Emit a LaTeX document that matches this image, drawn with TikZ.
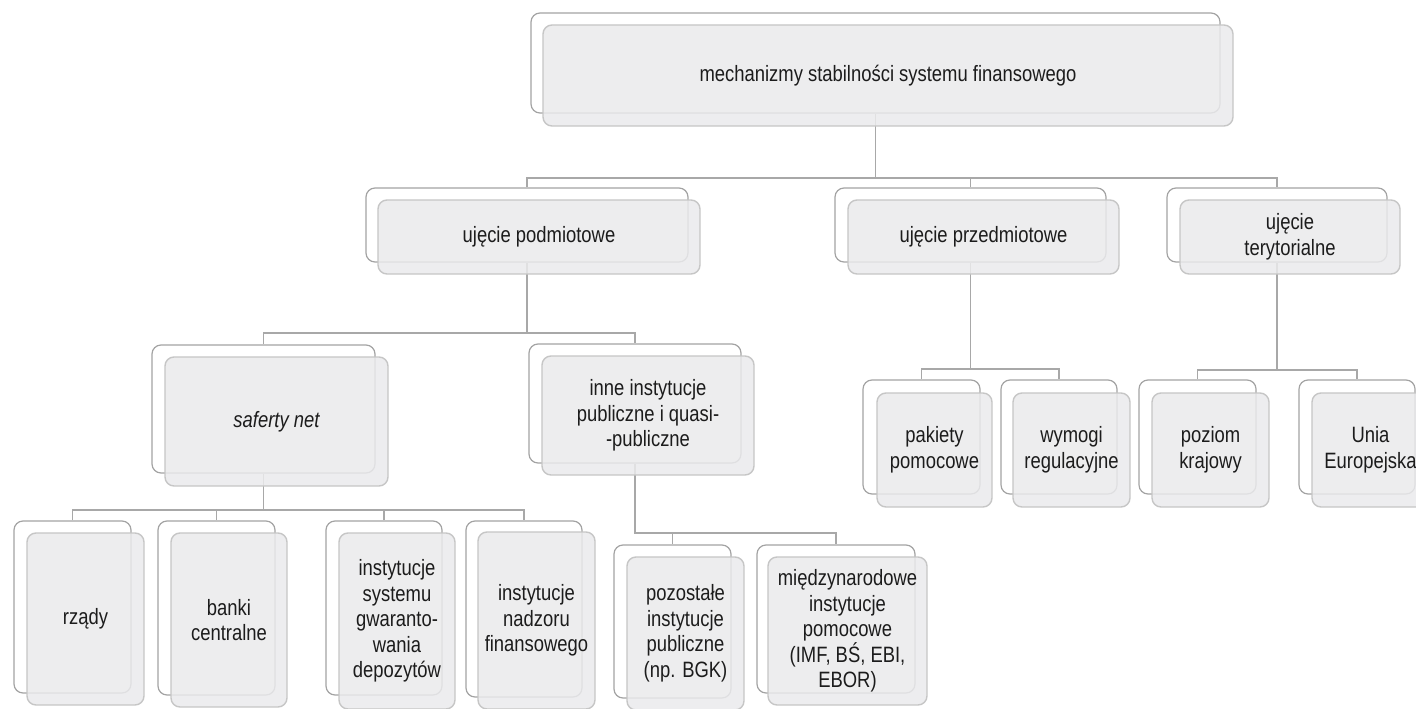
\documentclass[tikz,border=0pt]{standalone}
\usepackage{fontspec}
\setmainfont{Liberation Sans}[FakeStretch=0.83]
\definecolor{backline}{HTML}{A3A3A3}
\definecolor{frontline}{HTML}{C6C6C6}
\definecolor{frontfill}{HTML}{EAEAEC}
\definecolor{connline}{HTML}{A8A8A8}
\definecolor{txt}{HTML}{1C1C1C}
\tikzset{
  backst/.style={draw=backline, fill=white, line width=1.2pt, rounded corners=9pt, inner sep=0pt},
  frontst/.style={draw=frontline, fill=frontfill, fill opacity=0.85, text opacity=1, line width=1.4pt, rounded corners=9pt, inner sep=0pt, align=center, text=txt, font=\fontsize{22.2}{25.5}\selectfont},
  conn/.style={draw=connline, line width=1.6pt}
}
\newcommand\backbox[5]{\node[backst, minimum width={(#4-#2)*1pt}, minimum height={(#5-#3)*1pt}] (#1) at ({(#2+#4)/2},{(#3+#5)/2}) {};}
\newcommand\frontbox[6]{\node[frontst, minimum width={(#4-#2)*1pt}, minimum height={(#5-#3)*1pt}] (#1) at ({(#2+#4)/2},{(#3+#5)/2}) {#6};}
\begin{document}
\begin{tikzpicture}[x=1pt,y=-1pt]
\useasboundingbox (0,0) rectangle (1416,709);
% back boxes
\backbox{topB}{531}{13}{1220}{113}
\backbox{podB}{366}{188}{688}{262}
\backbox{przB}{835}{188}{1106}{262}
\backbox{terB}{1167}{188}{1387}{262}
\backbox{safB}{152}{345}{375}{473}
\backbox{innB}{529}{344}{741}{463}
\backbox{rzB}{14}{521}{131}{693}
\backbox{baB}{158}{521}{275}{695}
\backbox{isgB}{326}{521}{442}{695}
\backbox{nadB}{466}{521}{582}{697}
\backbox{pozB}{614}{545}{731}{698}
\backbox{mieB}{757}{545}{915}{693}
\backbox{pakB}{863}{380}{980}{494}
\backbox{wymB}{1001}{380}{1117}{494}
\backbox{kraB}{1139}{380}{1256}{494}
\backbox{uniB}{1299}{380}{1415}{494}
% connectors
\coordinate (bus1) at (877,178);
\coordinate (bus2) at (527,333);
\coordinate (bus3) at (263,510);
\coordinate (bus4) at (635,533);
\coordinate (bus5) at (971,369);
\coordinate (bus6) at (1277,370);
\draw[conn] (topB.south) -- (topB.south |- bus1);
\draw[conn] (podB.north) -- (podB.north |- bus1) -- (terB.north |- bus1) -- (terB.north);
\draw[conn] (przB.north) -- (przB.north |- bus1);
\draw[conn] (podB.south) -- (podB.south |- bus2);
\draw[conn] (safB.north) -- (safB.north |- bus2) -- (innB.north |- bus2) -- (innB.north);
\draw[conn] (safB.south) -- (safB.south |- bus3);
\draw[conn] (rzB.north) -- (rzB.north |- bus3) -- (nadB.north |- bus3) -- (nadB.north);
\draw[conn] (baB.north) -- (baB.north |- bus3);
\draw[conn] (isgB.north) -- (isgB.north |- bus3);
\draw[conn] (innB.south) -- (innB.south |- bus4) -- (mieB.north |- bus4) -- (mieB.north);
\draw[conn] (pozB.north) -- (pozB.north |- bus4);
\draw[conn] (przB.south) -- (przB.south |- bus5);
\draw[conn] (pakB.north) -- (pakB.north |- bus5) -- (wymB.north |- bus5) -- (wymB.north);
\draw[conn] (terB.south) -- (terB.south |- bus6);
\draw[conn] (kraB.north) -- (kraB.north |- bus6) -- (uniB.north |- bus6) -- (uniB.north);
% front boxes
\frontbox{topF}{543}{25}{1233}{126}{mechanizmy stabilności systemu finansowego}
\frontbox{podF}{378}{200}{700}{274}{ujęcie podmiotowe}
\frontbox{przF}{848}{200}{1119}{274}{ujęcie przedmiotowe}
\frontbox{terF}{1180}{200}{1400}{274}{ujęcie\\terytorialne}
\frontbox{safF}{165}{357}{388}{486}{\itshape saferty net}
\frontbox{innF}{542}{356}{754}{475}{inne instytucje\\publiczne i quasi-\\-publiczne}
\frontbox{rzF}{27}{533}{144}{705}{rządy}
\frontbox{baF}{171}{533}{287}{707}{banki\\centralne}
\frontbox{isgF}{339}{533}{455}{709}{instytucje\\systemu\\gwaranto-\\wania\\depozytów}
\frontbox{nadF}{478}{532}{595}{709}{instytucje\\nadzoru\\finansowego}
\frontbox{pozF}{627}{557}{744}{710}{pozostałe\\instytucje\\publiczne\\(np. BGK)}
\frontbox{mieF}{768}{557}{927}{705}{międzynarodowe\\instytucje\\pomocowe\\(IMF, BŚ, EBI,\\EBOR)}
\frontbox{pakF}{877}{393}{992}{507}{pakiety\\pomocowe}
\frontbox{wymF}{1013}{393}{1130}{507}{wymogi\\regulacyjne}
\frontbox{kraF}{1152}{393}{1269}{507}{poziom\\krajowy}
\frontbox{uniF}{1312}{393}{1429}{507}{Unia\\Europejska}
\end{tikzpicture}
\end{document}
